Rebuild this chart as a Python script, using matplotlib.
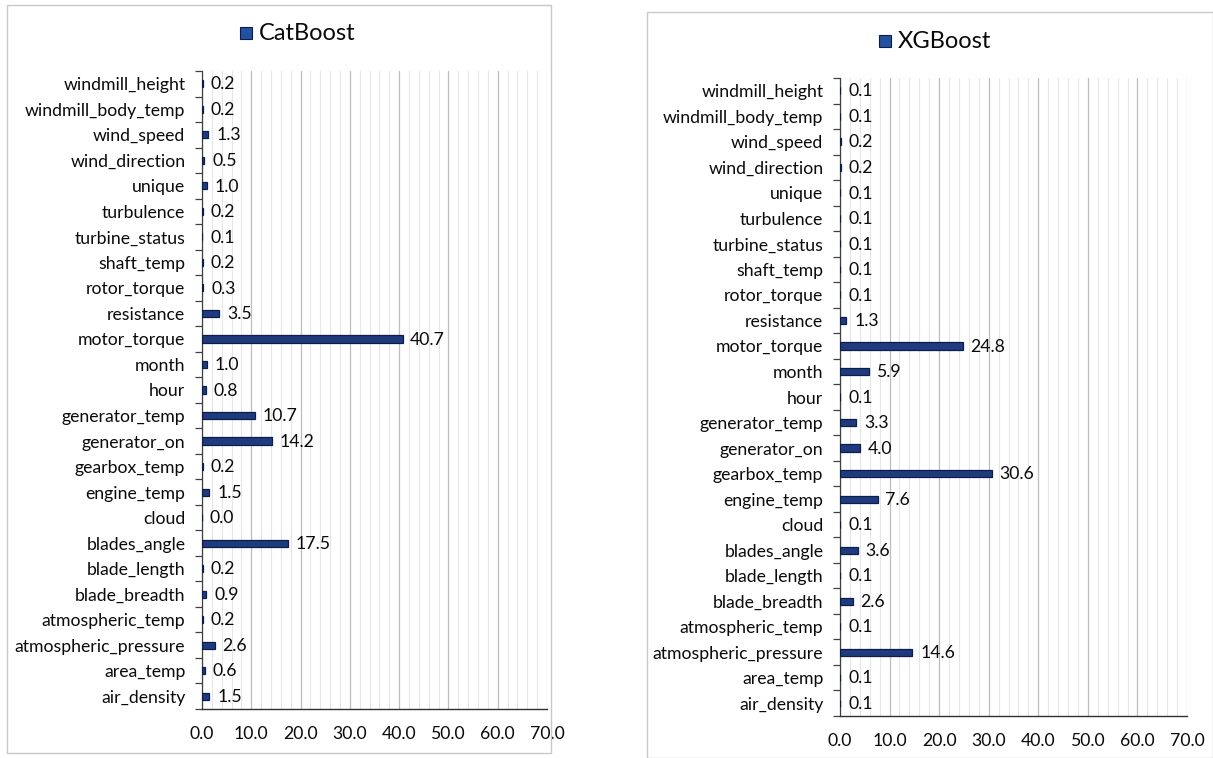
import matplotlib
matplotlib.use("Agg")
import matplotlib.pyplot as plt
from matplotlib.patches import Rectangle
from matplotlib.ticker import MultipleLocator, FixedLocator
import numpy as np

plt.rcParams['font.family'] = ['Lato', 'DejaVu Sans']

features = [
    "windmill_height", "windmill_body_temp", "wind_speed", "wind_direction",
    "unique", "turbulence", "turbine_status", "shaft_temp", "rotor_torque",
    "resistance", "motor_torque", "month", "hour", "generator_temp",
    "generator_on", "gearbox_temp", "engine_temp", "cloud", "blades_angle",
    "blade_length", "blade_breadth", "atmospheric_temp",
    "atmospheric_pressure", "area_temp", "air_density",
]
catboost_importance = [
    0.2, 0.2, 1.3, 0.5, 1.0, 0.2, 0.1, 0.2, 0.3, 3.5, 40.7, 1.0, 0.8,
    10.7, 14.2, 0.2, 1.5, 0.0, 17.5, 0.2, 0.9, 0.2, 2.6, 0.6, 1.5,
]
xgboost_importance = [
    0.1, 0.1, 0.2, 0.2, 0.1, 0.1, 0.1, 0.1, 0.1, 1.3, 24.8, 5.9, 0.1,
    3.3, 4.0, 30.6, 7.6, 0.1, 3.6, 0.1, 2.6, 0.1, 14.6, 0.1, 0.1,
]
x_ticks = [0, 10, 20, 30, 40, 50, 60, 70]

W, H = 1213, 758
fig = plt.figure(figsize=(W / 100, H / 100), dpi=100)
fig.patch.set_facecolor("white")

BAR = "#1F3B7E"
EDGE = "#0B1D4A"
TXT = "#0A0A0A"
FS = 12.7


def px_box(x0, y0, x1, y1):
    return [x0 / W, 1 - y1 / H, (x1 - x0) / W, (y1 - y0) / H]


def panel(frame, plot, title, title_pos, values):
    fx0, fy0, fx1, fy1 = frame
    fig.add_artist(Rectangle((fx0 / W, 1 - fy1 / H), (fx1 - fx0) / W,
                             (fy1 - fy0) / H, transform=fig.transFigure,
                             fill=False, edgecolor="#C8C8C8", lw=1.0))
    ax = fig.add_axes(px_box(*plot))
    n = len(features)
    y = np.arange(n)
    ax.barh(y, values, height=0.28, color=BAR, edgecolor=EDGE, linewidth=0.9,
            zorder=3)
    for yi, v in zip(y, values):
        ax.annotate(f"{v:.1f}", (v, yi), xytext=(5.5, -0.5),
                    textcoords="offset points", va="center", ha="left",
                    fontsize=FS, color=TXT)
    ax.set_ylim(n - 0.5, -0.5)
    ax.set_xlim(0, 70)
    ax.set_yticks(y)
    ax.set_yticklabels(features, fontsize=FS, color=TXT)
    ax.yaxis.set_minor_locator(FixedLocator(np.arange(-0.5, n, 1.0)))
    ax.tick_params(axis="y", which="major", length=0, pad=12)
    ax.tick_params(axis="y", which="minor", length=5, width=0.9,
                   color="#404040", direction="out")
    ax.set_xticks(x_ticks)
    ax.set_xticklabels([f"{t:.1f}" for t in x_ticks], fontsize=FS, color=TXT)
    ax.xaxis.set_minor_locator(MultipleLocator(2))
    ax.tick_params(axis="x", which="both", length=0, pad=12)
    ax.grid(axis="x", which="major", color="#BDBDBD", lw=0.9, zorder=0)
    ax.grid(axis="x", which="minor", color="#E6E6E6", lw=0.8, zorder=0)
    for s in ("top", "right"):
        ax.spines[s].set_visible(False)
    ax.spines["left"].set_color("#404040")
    ax.spines["bottom"].set_color("#303030")
    ax.spines["left"].set_linewidth(0.9)
    ax.spines["bottom"].set_linewidth(1.0)

    tx, ty = title_pos
    fig.add_artist(Rectangle(((tx - 19) / W, 1 - (ty + 6) / H), 12 / W,
                             12 / H, transform=fig.transFigure,
                             facecolor="#2450A0", edgecolor=EDGE, lw=0.8))
    fig.text(tx / W, 1 - ty / H, title, fontsize=17, color=TXT,
             ha="left", va="center")
    return ax


panel((7, 5, 551, 753), (202, 71, 547, 709), "CatBoost", (259, 33),
      catboost_importance)
panel((647, 12, 1213, 758), (840, 78, 1187, 716), "XGBoost", (898, 41),
      xgboost_importance)

fig.savefig("out.png", dpi=100, facecolor="white")
